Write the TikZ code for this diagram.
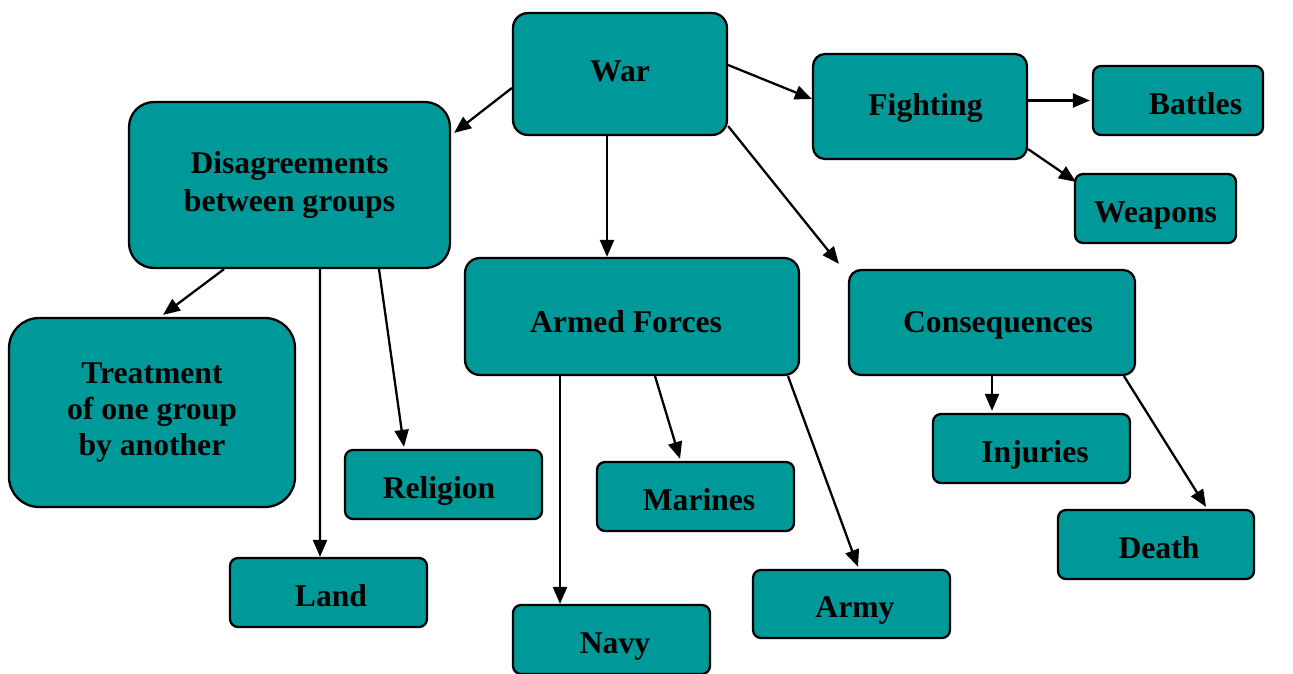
\documentclass[tikz,border=0pt]{standalone}
\usepackage{fontspec}
\setmainfont{Liberation Serif}
\usetikzlibrary{arrows.meta,calc}

\definecolor{teal}{HTML}{009999}

\begin{document}
\begin{tikzpicture}[x=0.02cm,y=-0.02cm]
		\tikzstyle{topic}=[draw=black,line width=1.3pt,fill=teal,rounded corners=0.16cm,
			align=center,inner sep=0pt,font=\fontsize{18}{21.5}\selectfont\bfseries,
			text height=0.69cm,text depth=0.15cm]
		\tikzstyle{small}=[minimum width=3.94cm,minimum height=1.38cm]
		\tikzstyle{link}=[line width=1.3pt,arrows={-Triangle[length=0.34cm,width=0.28cm]}]
		
		\useasboundingbox (0,0) rectangle (1293,673);
		
		% centre
		\node[topic,rounded corners=0.3cm,text height=0.43cm,minimum width=4.28cm,minimum height=2.44cm] (war) at (620,74) {War};
		
		% upper right
		\node[topic,rounded corners=0.24cm,text height=0.49cm,minimum width=4.28cm,minimum height=2.1cm] (fighting) at (920,106.5) {\hspace*{0.22cm}Fighting};
		\node[topic,small,minimum width=3.4cm] (battles) at (1178,100.5) {\hspace*{0.7cm}Battles};
		\node[topic,small,minimum width=3.22cm] (weapons) at (1155.5,208.5) {Weapons};
		
		% left
		\node[topic,rounded corners=0.5cm,text height=,text depth=,minimum width=6.42cm,minimum height=3.32cm] (disagree) at (289.5,185) {Disagreements\\between groups};
		\node[topic,rounded corners=0.6cm,text height=,text depth=,font=\fontsize{18}{20.5}\selectfont\bfseries,
			minimum width=5.72cm,minimum height=3.78cm] (treatment) at (152,412.5) {Treatment\\of one group\\by another};
		\node[topic,small] (religion) at (443.5,484.5) {Religion\hspace*{0.18cm}};
		\node[topic,small] (land) at (328.5,592.5) {\hspace*{0.1cm}Land};
		
		% middle
		\node[topic,rounded corners=0.3cm,text height=0.77cm,minimum width=6.68cm,minimum height=2.34cm] (armed) at (632,316.5) {Armed Forces\hspace*{0.24cm}};
		\node[topic,small] (marines) at (695.5,496.5) {\hspace*{0.14cm}Marines};
		\node[topic,small] (navy) at (611.5,639.5) {\hspace*{0.14cm}Navy};
		\node[topic,small,minimum height=1.36cm] (army) at (851.5,604) {\hspace*{0.14cm}Army};
		
		% right
		\node[topic,rounded corners=0.24cm,text height=0.53cm,minimum width=5.72cm,minimum height=2.1cm] (conseq) at (992,322.5) {\hspace*{0.24cm}Consequences};
		\node[topic,small] (injuries) at (1031.5,448.5) {\hspace*{0.14cm}Injuries};
		\node[topic,small,minimum width=3.92cm] (death) at (1156,544.5) {\hspace*{0.12cm}Death};
		
		\draw[link] ($(war.west)+(0,14)$) -- ($(disagree.north east)+(3,32)$);
		\draw[link] ($(war.east)+(0,-9)$) -- ($(fighting.west)+(0,-7.5)$);
		\draw[link] ($(war.south)+(-13,0)$) -- ($(armed.north)+(-25,0)$);
		\draw[link] ($(war.south east)+(0,-10)$) -- ($(conseq.north west)+(-9,-5)$);
		
		\draw[link] ($(fighting.east)+(0,-6)$) -- ($(battles.west)+(-2,0)$);
		\draw[link] ($(fighting.south east)+(0,-11)$) -- ($(weapons.north west)+(2,9)$);
		
		\draw[link] ($(disagree.south)+(-65.5,0)$) -- ($(treatment.north)+(11,-2)$);
		\draw[link] ($(disagree.south)+(30.5,0)$) -- ($(land.north)+(-8.5,0)$);
		\draw[link] ($(disagree.south)+(89.5,0)$) -- ($(religion.north)+(-39.5,-2)$);
		
		\draw[link] ($(armed.south)+(-72,0)$) -- ($(navy.north)+(-51.5,0)$);
		\draw[link] ($(armed.south)+(23,0)$) -- ($(marines.north)+(-15.5,-2)$);
		\draw[link] ($(armed.south)+(156,0)$) -- ($(army.north)+(6.5,-2)$);
		
		\draw[link] (conseq.south) -- ($(injuries.north)+(-39.5,-2)$);
		\draw[link] ($(conseq.south)+(132,0)$) -- ($(death.north)+(50,-2)$);
		\end{tikzpicture}
\end{document}
